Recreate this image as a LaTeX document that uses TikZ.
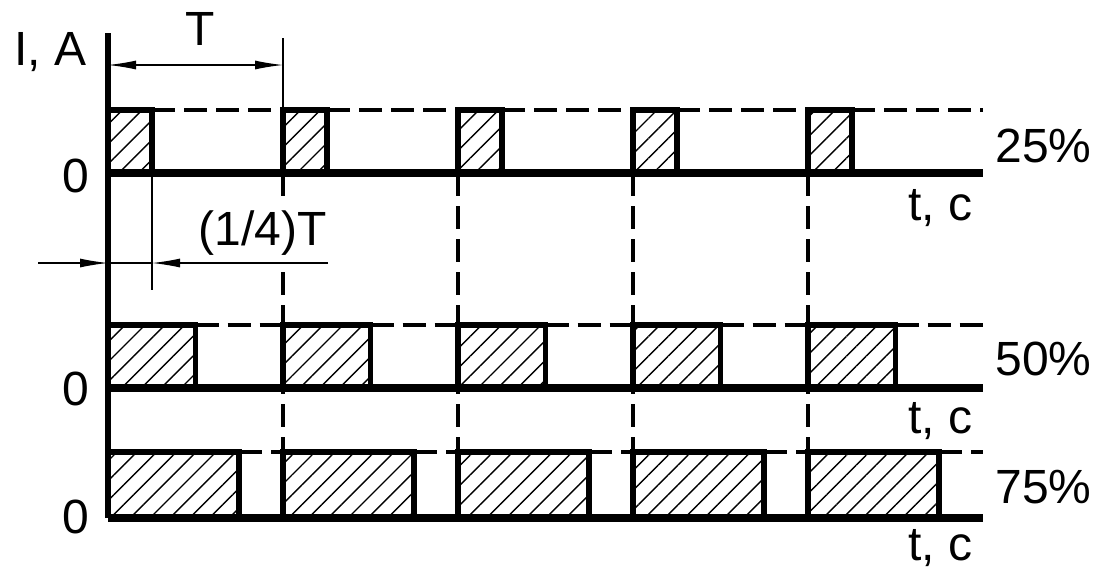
\documentclass[tikz,border=0pt]{standalone}
\usepackage{fontspec}
\setmainfont{Liberation Sans}
\usetikzlibrary{arrows.meta, patterns.meta}

\tikzset{
  pulse/.style={line width=2.8pt, line join=miter},
  baseln/.style={line width=3.6pt},
  level/.style={line width=1.8pt, dash pattern=on 11.5pt off 4.5pt},
  period/.style={line width=1.8pt, dash pattern=on 11.5pt off 5pt},
  dimln/.style={line width=0.6pt},
  hatch/.style={pattern={Lines[angle=45,distance=7pt,line width=0.7pt]}},
  lbl/.style={font=\fontsize{24}{28}\selectfont, inner sep=0pt, anchor=base},
}

\begin{document}
\begin{tikzpicture}[x=0.5pt,y=-0.5pt, >={Latex[length=14pt,width=4.5pt]}]
  \path[use as bounding box] (0,0) rectangle (1098,569);
  \fill[white] (0,0) rectangle (1098,569);
  % three duty cycles: high level / zero level / pulse width / row
  \foreach \hi/\lo/\w/\r in {110/173/44/a, 325/388/87.5/b, 452/518/131/c}{
    \foreach \k in {0,...,4}{
      \pgfmathsetmacro\xs{108+175*\k}
      \coordinate (top-\r-\k) at (\xs,\hi);
      \coordinate (bot-\r-\k) at (\xs,\lo);
      \coordinate (end-\r-\k) at (\xs+\w,\lo);
      \path[hatch] (\xs,\hi) rectangle (\xs+\w,\lo);
      \draw[level] (\xs+\w,\hi) -- (\xs+175,\hi);
      \draw[pulse] (bot-\r-\k) -- (top-\r-\k) -- (\xs+\w,\hi) -- (end-\r-\k);
    }
    \draw[baseln] (108,\lo) -- (983,\lo);
  }
  % period marks, the first one broken by the label
  \coordinate (gapa) at (283,198);
  \coordinate (gapb) at (283,272);
  \draw[period] (bot-a-1) -- (gapa);
  \draw[period] (gapb) -- (top-c-1);
  \foreach \k in {2,...,4}{
    \draw[period] (bot-a-\k) -- (top-c-\k);
  }
  \coordinate (axtop) at (108,33);
  \draw[pulse] (axtop) -- (bot-c-0);

  % period T
  \coordinate (tx) at (283,38);
  \coordinate (tl) at (108,65);
  \coordinate (tr) at (283,65);
  \draw[dimln] (tx) -- (top-a-1);
  \draw[dimln, <->] (tl) -- (tr);
  \node[lbl] (lblT) at (200,45) {T};

  % pulse width (1/4)T
  \coordinate (qx) at (152,290);
  \coordinate (ql) at (38,263);
  \coordinate (qa) at (108,263);
  \coordinate (qb) at (152,263);
  \coordinate (qr) at (328,263);
  \draw[dimln] (end-a-0) -- (qx);
  \draw[dimln, ->] (ql) -- (qa);
  \draw[dimln, ->] (qr) -- (qb);
  \draw[dimln] (qa) -- (qb);
  \node[lbl, anchor=base west] (lblq) at (198,245) {(1/4)T};

  \node[lbl, anchor=base west] (lblIA) at (14,65) {I, A};
  \node[lbl] (zeroa) at (76,192) {0};
  \node[lbl] (zerob) at (76,405) {0};
  \node[lbl] (zeroc) at (76,533) {0};
  \node[lbl, anchor=base west] (duta) at (995,162) {25\%};
  \node[lbl, anchor=base west] (dutb) at (995,375) {50\%};
  \node[lbl, anchor=base west] (dutc) at (995,503) {75\%};
  \node[lbl, anchor=base west] (ta) at (908,220) {t, c};
  \node[lbl, anchor=base west] (tb) at (908,433) {t, c};
  \node[lbl, anchor=base west] (tc) at (908,560) {t, c};
\end{tikzpicture}
\end{document}
